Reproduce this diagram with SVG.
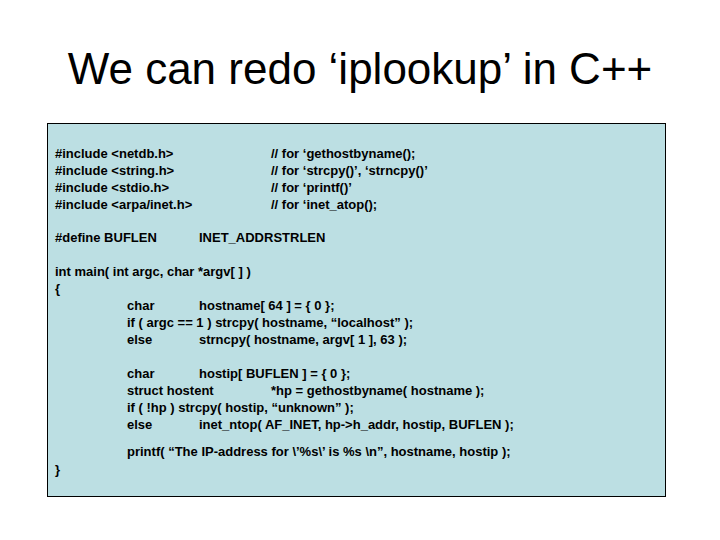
<svg xmlns="http://www.w3.org/2000/svg" width="720" height="540" viewBox="0 0 720 540">
<style>
.c{font-family:"Liberation Sans",Arial,sans-serif;font-size:13px;font-weight:bold;fill:#000}
.t{font-family:"Liberation Sans",Arial,sans-serif;font-size:44px;fill:#000}
</style>
<rect width="720" height="540" fill="#fff"/>
<text class="t" x="360" y="84" text-anchor="middle">We can redo ‘iplookup’ in C++</text>
<g id="code">
<rect x="47.5" y="123.5" width="618" height="373" fill="#BCDFE3" stroke="#000" stroke-width="1"/>
<text class="c" x="55" y="158">#include &lt;netdb.h&gt;</text>
<text class="c" x="55" y="175">#include &lt;string.h&gt;</text>
<text class="c" x="55" y="192">#include &lt;stdio.h&gt;</text>
<text class="c" x="55" y="209">#include &lt;arpa/inet.h&gt;</text>
<text class="c" x="271" y="158">// for ‘gethostbyname();</text>
<text class="c" x="271" y="175">// for ‘strcpy()’, ‘strncpy()’</text>
<text class="c" x="271" y="192">// for ‘printf()’</text>
<text class="c" x="271" y="209">// for ‘inet_atop();</text>
<text class="c" x="55" y="242">#define BUFLEN</text>
<text class="c" x="199" y="242">INET_ADDRSTRLEN</text>
<text class="c" x="55" y="276">int main( int argc, char *argv[ ] )</text>
<text class="c" x="55" y="293">{</text>
<text class="c" x="127" y="310">char</text>
<text class="c" x="199" y="310">hostname[ 64 ] = { 0 };</text>
<text class="c" x="127" y="327">if ( argc == 1 ) strcpy( hostname, “localhost” );</text>
<text class="c" x="127" y="344">else</text>
<text class="c" x="199" y="344">strncpy( hostname, argv[ 1 ], 63 );</text>
<text class="c" x="127" y="378">char</text>
<text class="c" x="199" y="378">hostip[ BUFLEN ] = { 0 };</text>
<text class="c" x="127" y="395">struct hostent</text>
<text class="c" x="271" y="395">*hp = gethostbyname( hostname );</text>
<text class="c" x="127" y="412">if ( !hp ) strcpy( hostip, “unknown” );</text>
<text class="c" x="127" y="429">else</text>
<text class="c" x="199" y="429">inet_ntop( AF_INET, hp-&gt;h_addr, hostip, BUFLEN );</text>
<text class="c" x="127" y="456">printf( “The IP-address for \’%s\’ is %s \n”, hostname, hostip );</text>
<text class="c" x="55" y="474">}</text>
</g>
</svg>
